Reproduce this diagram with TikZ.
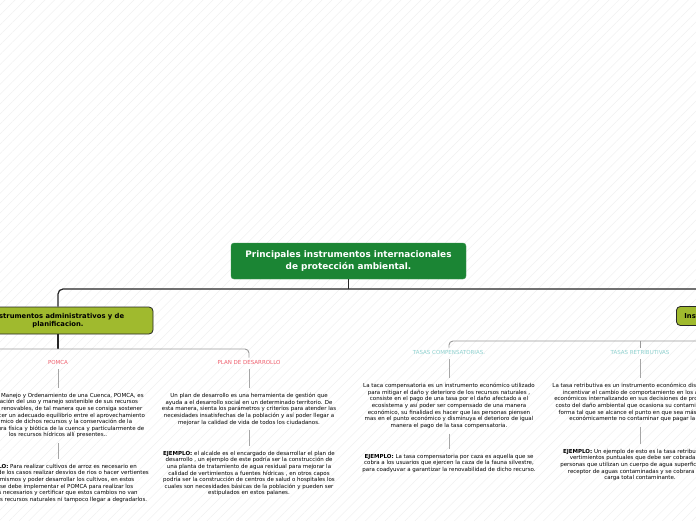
\documentclass[tikz,border=0pt]{standalone}
\usepackage{fontspec}
\setmainfont{DejaVu Sans}
\usepackage{tikz}
\usetikzlibrary{positioning, patterns.meta}
\definecolor{rootgreen}{HTML}{1B8534}
\definecolor{olivebox}{HTML}{A0BA2E}
\definecolor{labelred}{HTML}{F0606E}
\definecolor{labelteal}{HTML}{8ED1CF}

\begin{document}
\begin{tikzpicture}[x=1pt, y=-1pt,
  root/.style={rectangle, rounded corners=3pt, draw=rootgreen!85!white, fill=rootgreen, text=white, font=\fontsize{8.9}{11.5}\selectfont\bfseries, align=center, minimum width=235pt, minimum height=36pt},
  branch/.style={rectangle, rounded corners=4pt, draw=black!85, line width=0.8pt, fill=olivebox, font=\fontsize{6.8}{7.8}\selectfont\bfseries, align=center, minimum height=27pt},
  lbl/.style={font=\fontsize{5.5}{6}\selectfont, inner sep=2pt},
  txt/.style={anchor=north, font=\fontsize{5.5}{6.6}\selectfont, align=center, inner sep=2pt},
  trunk/.style={draw=black!85, line width=1.2pt},
  bus/.style={draw=black!40, line width=0.9pt, rounded corners=4pt},
  tick/.style={draw=black!35, line width=1pt, shorten <=3pt, shorten >=3pt},
]
\useasboundingbox (0,0) rectangle (696,520);
\clip (0,0) rectangle (696,520);
\fill[white] (0,0) rectangle (696,520);
\fill[pattern={Lines[angle=45, distance=7pt, line width=0.35pt]}, pattern color=black!7] (0,0) rectangle (696,520);

% main topic and its two branches
\node[root] (root) at (348.5,261) {Principales instrumentos internacionales\\de protección ambiental.};
\node[branch, minimum width=190pt] (admin) at (58,320.5) {Instrumentos administrativos y de\\planificacion.};
\node[branch, minimum height=19pt, inner xsep=8pt, anchor=west] (econ) at (676,316) {Instrumentos económicos};

\coordinate (topbus) at (348.5,289);
\coordinate (leftbus) at (58,349);
\coordinate (leftend) at (-140,349);
\coordinate (rightend) at (800,341);

% subtopics
\node[lbl, text=labelred] (pomca) at (58,362) {POMCA};
\node[lbl, text=labelred] (plan) at (249,362) {PLAN DE DESARROLLO};
\node[lbl, text=labelteal] (comp) at (449,352) {TASAS COMPENSATORIAS.};
\node[lbl, text=labelteal] (retri) at (640,352) {TASAS RETRIBUTIVAS};

\node[txt] (pomcatxt) at (58,391) {El Plan de Manejo y Ordenamiento de una Cuenca, POMCA, es\\
la planeación del  uso y manejo sostenible de sus recursos\\
naturales renovables, de tal  manera que se consiga sostener\\
o restablecer un adecuado equilibrio entre el aprovechamiento\\
económico de dichos recursos y la conservación de la\\
la estructura física y biótica de la cuenca y particularmente de\\
los recursos hídricos allí presentes..};
\node[txt] (pomcaej) at (58,462) {\textbf{EJEMPLO:} Para realizar cultivos de arroz es necesario en\\
la mayoría de los casos realizar desvios de rios o hacer vertientes\\
de los mismos y poder desarrollar los cultivos, en estos\\
casos se debe  implementar el POMCA para realizar los\\
cambios necesarios y certificar que estos cambios no van\\
a afectar los recursos naturales ni tampoco llegar a degradarlos.};

\node[txt] (plantxt) at (249,391) {Un plan de desarrollo es una herramienta de gestión que\\
ayuda a  el desarrollo social en un determinado territorio. De\\
esta manera, sienta los parámetros y criterios para atender las\\
necesidades insatisfechas de la población y así poder llegar a\\
mejorar la calidad de vida de todos los ciudadanos.};
\node[txt] (planej) at (249,449) {\textbf{EJEMPLO:} el alcalde es el encargado de desarrollar el plan de\\
desarrollo , un ejemplo de este podría ser la construcción de\\
una planta de tratamiento de agua residual para mejorar la\\
calidad de vertimientos a fuentes hídricas , en otros capos\\
podría ser la construcción de centros de salud o hospitales los\\
cuales son necesidades básicas de la población y pueden ser\\
estipulados en estos palanes.};

\node[txt] (comptxt) at (449,381) {La taca compensatoria es un  instrumento económico utilizado\\
para mitigar el daño y deterioro de los recursos naturales ,\\
consiste en el pago de una tasa por el daño afectado a el\\
ecosistema y así poder ser compensado de una manera\\
económico, su finalidad es hacer que las personas piensen\\
mas en el punto económico y disminuya el deterioro de igual\\
manera el pago de la tasa compensatoria.};
\node[txt] (compej) at (449,452) {\textbf{EJEMPLO:} La tasa compensatoria por caza es aquella que se\\
cobra a los usuarios que ejercen la caza de la fauna silvestre,\\
para coadyuvar a garantizar la renovabilidad de dicho recurso.};

\node[txt] (retritxt) at (640,381) {La tasa retributiva es un instrumento económico diseñado para\\
incentivar el cambio de comportamiento en los agentes\\
económicos internalizando en sus decisiones de producción el\\
costo del daño ambiental que ocasiona su contaminación, de\\
forma tal que se alcance el punto en que sea más rentable\\
económicamente no contaminar que pagar la tasa.};
\node[txt] (retriej) at (640,447) {\textbf{EJEMPLO:} Un ejemplo de esto es la tasa retributiva por\\
vertimientos puntuales que debe ser cobrada a las\\
personas que utilizan un cuerpo de agua superficial como\\
receptor de aguas contaminadas y se cobrara por el\\
carga total contaminante.};

% connectors
\draw[trunk] (root) -- (topbus);
\draw[trunk, rounded corners=5pt] (admin) |- (topbus) -| (econ);
\draw[trunk] (admin) -- (leftbus);
\draw[bus] (leftend) -- (leftbus) -| (plan);
\draw[trunk] (econ) -- (econ |- rightend);
\draw[bus] (comp) |- (rightend);
\draw[bus] (retri) -- (retri |- rightend);

\draw[tick] (pomca) -- (pomcatxt);
\draw[tick] (pomcatxt) -- (pomcaej);
\draw[tick] (plan) -- (plantxt);
\draw[tick] (plantxt) -- (planej);
\draw[tick] (comp) -- (comptxt);
\draw[tick] (comptxt) -- (compej);
\draw[tick] (retri) -- (retritxt);
\draw[tick] (retritxt) -- (retriej);
\end{tikzpicture}
\end{document}
